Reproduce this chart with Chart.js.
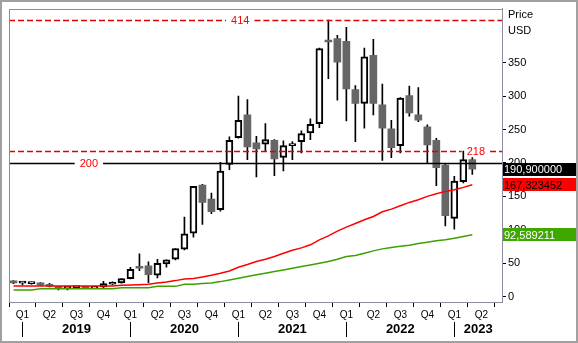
<!DOCTYPE html>
<html>
<head>
<meta charset="utf-8">
<script src="https://cdn.jsdelivr.net/npm/chart.js@4.4.1/dist/chart.umd.min.js"></script>
<style>
  html, body { margin: 0; padding: 0; background: #fff; }
  #wrap { width: 578px; height: 343px; }
</style>
</head>
<body>
<div id="wrap"><canvas id="chart" width="578" height="343"></canvas></div>
<script>
// monthly candles, Dec 2018 .. Mar 2023 (axis runs on to Jun 2023)
var months = ['Dec 18',
  'Jan 19','Feb 19','Mar 19','Apr 19','May 19','Jun 19','Jul 19','Aug 19','Sep 19','Oct 19','Nov 19','Dec 19',
  'Jan 20','Feb 20','Mar 20','Apr 20','May 20','Jun 20','Jul 20','Aug 20','Sep 20','Oct 20','Nov 20','Dec 20',
  'Jan 21','Feb 21','Mar 21','Apr 21','May 21','Jun 21','Jul 21','Aug 21','Sep 21','Oct 21','Nov 21','Dec 21',
  'Jan 22','Feb 22','Mar 22','Apr 22','May 22','Jun 22','Jul 22','Aug 22','Sep 22','Oct 22','Nov 22','Dec 22',
  'Jan 23','Feb 23','Mar 23','Apr 23','May 23','Jun 23'];

var open  = [23, 20.3, 19.5, 20.5, 18.5, 15.5, 12.8, 13.5, 15.5, 12.5, 14.5, 18.5, 20.5,
             27, 43, 46, 32, 49, 56, 71, 95, 167, 146, 130, 198,
             238, 272, 230, 228, 234, 208.5, 226, 232, 245, 259, 382, 386,
             382, 310, 289, 361, 287, 251, 226, 301, 272, 254, 234, 197,
             117, 172, 205];
var high  = [24, 23, 22, 21, 20, 15.5, 15.5, 16, 15.5, 15, 23, 22, 27,
             44, 64, 52, 56, 55, 72, 119, 165, 168, 155, 201, 239,
             300, 295, 240, 259, 235, 233, 232, 248, 266, 372, 414, 391,
             403, 316, 372, 385, 318, 264, 298, 315, 313, 257, 237, 198,
             180, 218, 208];
var low   = [19.5, 17.5, 18.5, 16.5, 14.5, 10, 10, 12.5, 12.5, 12, 13, 18, 20,
             26.5, 39, 21, 28, 44, 55, 70, 89, 108, 124, 128, 190,
             237, 205, 179, 217, 181, 188, 205, 215, 235, 253, 326, 294,
             263, 232, 252, 272, 204, 208, 215, 270, 262, 199, 166, 106,
             101, 170, 183];
var close = [20.5, 20.5, 21.5, 17, 15.5, 12, 13.3, 15, 12.5, 15, 19.5, 21, 27,
             41, 42.5, 33, 50, 55, 72, 94, 165, 141, 127, 188, 234,
             264, 224, 221, 235, 206, 226, 228, 244, 258, 371, 381, 351,
             311, 289, 359, 289, 252, 223, 297, 275, 264, 227, 193, 121,
             173, 205, 190.9];

// moving averages
var maRed = [16, 16, 16, 16, 16, 16, 16, 16, 16, 16, 16, 16, 16.9,
             17.5, 17.9, 18.5, 20.4, 22, 24, 26.5, 27, 29.5, 32, 35, 38.5,
             44, 48, 52.7, 56, 60, 65, 69.5, 73, 77.6, 85, 91, 98,
             104, 109.5, 115, 120, 127, 131, 136, 141, 145, 150, 154, 157.5,
             160, 163.5, 167.323452];
var maGreen = [10, 10, 10, 11.9, 11.9, 11.9, 11.9, 11.9, 11.9, 11.9, 11.9, 11.9, 13.4,
               13.4, 13.4, 13.4, 15.4, 15.4, 15.4, 18.4, 18.5, 19.5, 20.5, 22.5, 25,
               27.5, 30, 32.8, 35, 37.5, 40, 42.5, 45, 47.5, 50, 52.5, 56,
               60, 61.5, 65, 68.5, 71.5, 73.5, 75.5, 77, 79.5, 81.5, 83.5, 85,
               87.5, 90, 92.589211];

var yTicks = [0, 50, 100, 150, 200, 250, 300, 350];
var refLevels = [414, 218, 200];

var quarterOf = { Jan: 'Q1', Apr: 'Q2', Jul: 'Q3', Oct: 'Q4' };
var quarterIdx = [];
var yearIdx = [];
months.forEach(function(m, i) {
  var mm = m.split(' ')[0];
  if (quarterOf[mm]) quarterIdx.push(i);
  if (mm === 'Jan') yearIdx.push(i);
});

var gray = '#666666';
var bodies = [], wicks = [];
for (var i = 0; i < close.length; i++) {
  bodies.push({ x: i, y: [open[i], close[i]] });
  wicks.push({ x: i, y: [low[i], high[i]] });
}
function isUp(ctx) {
  var i = ctx.dataIndex;
  return close[i] >= open[i];
}

var decorations = {
  id: 'decorations',
  beforeDraw: function(chart) {
    var c = chart.ctx;
    c.save();
    c.fillStyle = '#fff';
    c.fillRect(0, 0, chart.width, chart.height);
    c.restore();
  },
  afterDatasetsDraw: function(chart) {
    var c = chart.ctx, a = chart.chartArea, ys = chart.scales.y;
    var styles = [
      { color: '#e00000', dash: [6, 3], label: '414', at: 0.469, text: '#ff0000' },
      { color: '#e00000', dash: [6, 3], label: '218', at: 0.947, text: '#ff0000' },
      { color: '#000000', dash: [], label: '200', at: 0.162, text: '#ff0000' }
    ];
    c.save();
    c.font = '11px "Liberation Sans", Arial, sans-serif';
    refLevels.forEach(function(v, k) {
      var s = styles[k];
      var y = Math.round(ys.getPixelForValue(v)) + 0.5;
      var tx = a.left + (a.right - a.left) * s.at;
      var w = c.measureText(s.label).width;
      c.strokeStyle = s.color;
      c.lineWidth = 1.5;
      c.setLineDash(s.dash);
      c.beginPath();
      c.moveTo(a.left, y); c.lineTo(tx - w / 2 - 5, y);
      c.moveTo(tx + w / 2 + 5, y); c.lineTo(a.right, y);
      c.stroke();
      c.fillStyle = s.text;
      c.textAlign = 'center';
      c.textBaseline = 'middle';
      c.fillText(s.label, tx, y);
    });
    c.restore();
  },
  afterDraw: function(chart) {
    var c = chart.ctx, a = chart.chartArea, xs = chart.scales.x, ys = chart.scales.y;
    c.save();
    // plot frame
    c.strokeStyle = '#8c8c9c';
    c.lineWidth = 1;
    c.strokeRect(Math.round(a.left) + 0.5, Math.round(a.top) + 0.5,
                 Math.round(a.right - a.left), Math.round(a.bottom - a.top));
    // outer frame
    c.strokeStyle = '#a0a0a0';
    c.lineWidth = 2;
    c.strokeRect(1, 1, chart.width - 2, chart.height - 2);

    // unit caption
    c.fillStyle = '#000';
    c.font = '11px "Liberation Sans", Arial, sans-serif';
    c.textAlign = 'left';
    c.textBaseline = 'middle';
    c.fillText('Price', a.right + 6, 15);
    c.fillText('USD', a.right + 6, 31);

    // last value boxes
    var boxes = [
      { v: close[close.length - 1], bg: '#000000', fg: '#ffffff' },
      { v: maRed[maRed.length - 1], bg: '#ff0000', fg: '#000000' },
      { v: maGreen[maGreen.length - 1], bg: '#3ea800', fg: '#ffffff' }
    ];
    boxes.forEach(function(b) {
      var y = ys.getPixelForValue(b.v);
      c.fillStyle = b.bg;
      c.fillRect(a.right + 1, Math.round(y - 6.5), chart.width - a.right - 3, 13);
      c.fillStyle = b.fg;
      c.fillText(b.v.toFixed(6).replace('.', ','), a.right + 2, Math.round(y) + 0.5);
    });

    // year row
    c.font = 'bold 13px "Liberation Sans", Arial, sans-serif';
    c.textAlign = 'center';
    c.strokeStyle = '#000';
    c.lineWidth = 1;
    yearIdx.forEach(function(idx, k) {
      var x0 = xs.getPixelForValue(idx);
      var x1 = k + 1 < yearIdx.length ? xs.getPixelForValue(yearIdx[k + 1]) : a.right;
      var px = Math.round(x0) + 0.5;
      c.beginPath();
      c.moveTo(px, 322); c.lineTo(px, 337);
      c.stroke();
      c.fillStyle = '#000';
      c.fillText('20' + months[idx].split(' ')[1], (x0 + x1) / 2, 329);
    });
    c.restore();
  }
};

new Chart(document.getElementById('chart').getContext('2d'), {
  type: 'bar',
  data: {
    datasets: [
      {
        type: 'line', data: maRed.map(function(v, i) { return { x: i, y: v }; }),
        borderColor: '#ff0000', borderWidth: 1.5, pointRadius: 0, tension: 0, order: 1
      },
      {
        type: 'line', data: maGreen.map(function(v, i) { return { x: i, y: v }; }),
        borderColor: '#3ea000', borderWidth: 1.5, pointRadius: 0, tension: 0, order: 1
      },
      {
        data: bodies, grouped: false, barThickness: 7, minBarLength: 2,
        backgroundColor: function(ctx) { return isUp(ctx) ? '#ffffff' : gray; },
        borderColor: '#000000',
        borderWidth: function(ctx) { return isUp(ctx) ? 2 : 0; },
        borderSkipped: false, order: 2
      },
      {
        data: wicks, grouped: false, barThickness: 1,
        backgroundColor: '#000000', borderWidth: 0, order: 3
      }
    ]
  },
  options: {
    responsive: false,
    maintainAspectRatio: false,
    animation: false,
    devicePixelRatio: 1,
    layout: { padding: { left: 9, top: 8, right: 0, bottom: 0 } },
    plugins: { legend: { display: false }, tooltip: { enabled: false } },
    scales: {
      x: {
        type: 'linear', min: -0.5, max: 54.3, offset: false,
        afterFit: function(s) { s.height = 41; },
        afterBuildTicks: function(s) {
          s.ticks = quarterIdx.map(function(v) { return { value: v }; });
        },
        ticks: {
          autoSkip: false, maxRotation: 0, padding: 2,
          color: '#000',
          font: { family: '"Liberation Sans", Arial, sans-serif', size: 10 },
          callback: function(v) { return quarterOf[months[v].split(' ')[0]]; }
        },
        grid: { drawOnChartArea: false, tickLength: 5, color: '#000' },
        border: { color: '#8c8c9c' }
      },
      y: {
        type: 'linear', position: 'right', min: -8, max: 431,
        afterFit: function(s) { s.width = 76; },
        afterBuildTicks: function(s) {
          s.ticks = yTicks.map(function(v) { return { value: v }; });
        },
        ticks: {
          padding: 2, color: '#000',
          font: { family: '"Liberation Sans", Arial, sans-serif', size: 11 }
        },
        grid: { drawOnChartArea: false, tickLength: 4, color: '#000' },
        border: { color: '#8c8c9c' }
      }
    }
  },
  plugins: [decorations]
});
</script>
</body>
</html>
